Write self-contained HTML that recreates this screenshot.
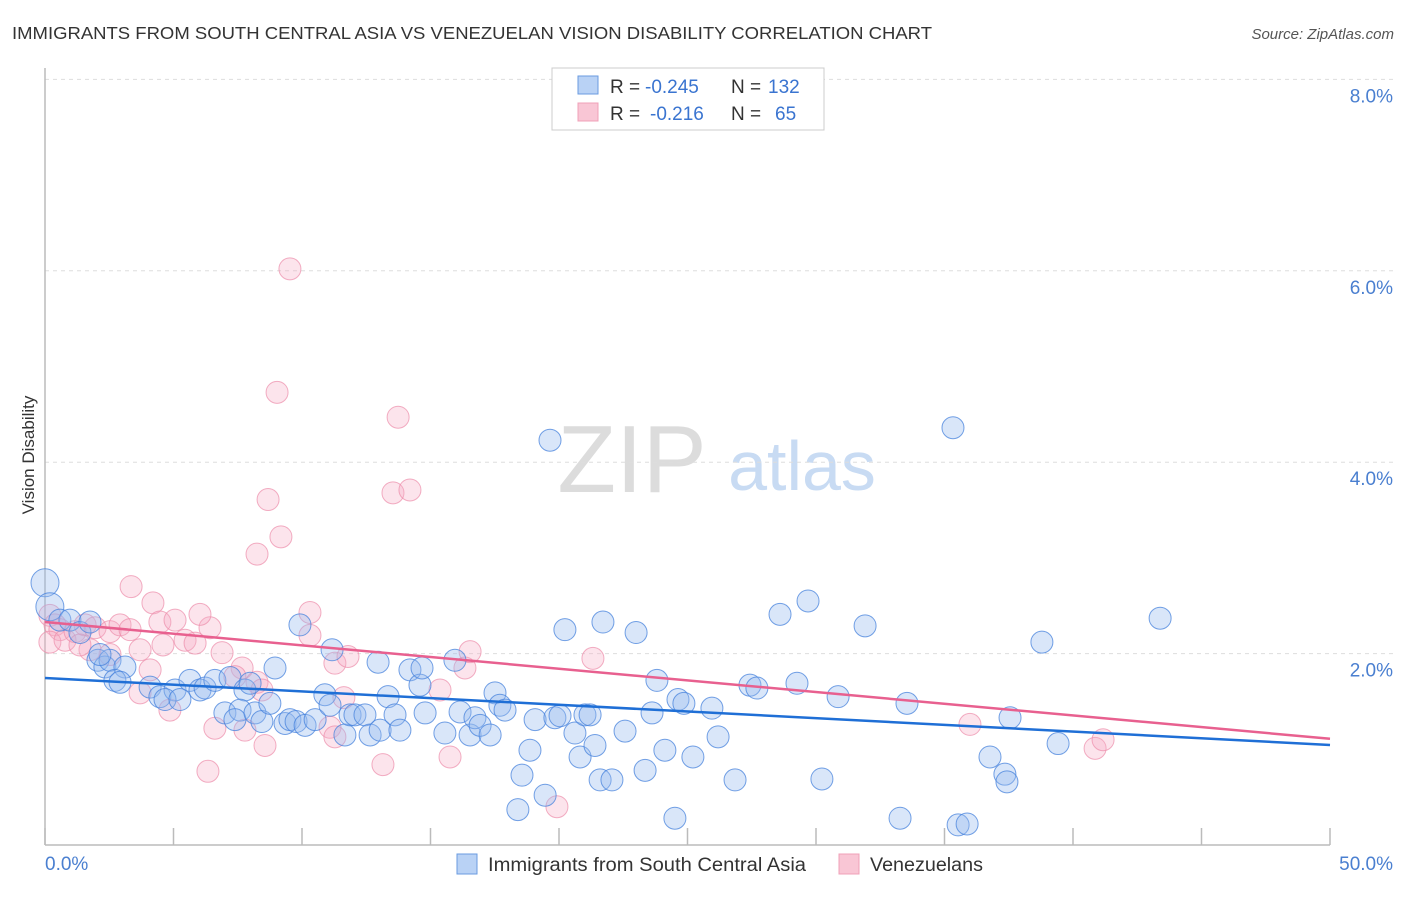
<!DOCTYPE html>
<html><head><meta charset="utf-8"><style>
body{margin:0;background:#fff;font-family:"Liberation Sans",sans-serif;}
svg text{font-family:"Liberation Sans",sans-serif;}
</style></head><body>
<svg width="1406" height="892" id="chart">
<text x="12" y="39" font-size="17.5" fill="#333" textLength="920" lengthAdjust="spacingAndGlyphs">IMMIGRANTS FROM SOUTH CENTRAL ASIA VS VENEZUELAN VISION DISABILITY CORRELATION CHART</text>
<text x="1394" y="39" font-size="15" fill="#555" font-style="italic" text-anchor="end">Source: ZipAtlas.com</text>
<text x="34" y="455" font-size="17" fill="#333" text-anchor="middle" transform="rotate(-90 34 455)">Vision Disability</text>
<g>
<text x="632" y="492" font-size="96" fill="#dcdcdc" font-family="Liberation Serif" text-anchor="middle">ZIP</text>
<text x="802" y="490" font-size="70" fill="#c8dbf3" text-anchor="middle">atlas</text>
</g>
<g id="grid"></g><g id="axes"></g><g id="marks"></g>
<g>
<rect x="552" y="68" width="272" height="62" fill="#fff" stroke="#ccc"/>
<rect x="578" y="76" width="20" height="18" fill="#b9d2f5" stroke="#6a9be0"/>
<rect x="578" y="103" width="20" height="18" fill="#f9c6d5" stroke="#f0a0b8"/>
<g font-size="19">
<text x="610" y="93" fill="#333">R =</text><text x="645" y="93" fill="#3a74d0">-0.245</text>
<text x="731" y="93" fill="#333">N =</text><text x="768" y="93" fill="#3a74d0">132</text></g>
<g font-size="19">
<text x="610" y="120" fill="#333">R =</text><text x="650" y="120" fill="#3a74d0">-0.216</text>
<text x="731" y="120" fill="#333">N =</text><text x="775" y="120" fill="#3a74d0">65</text></g>
</g>
<g>
<rect x="457" y="854" width="20" height="20" fill="#b9d2f5" stroke="#6a9be0"/>
<text x="488" y="871" font-size="19" fill="#333" textLength="318" lengthAdjust="spacingAndGlyphs">Immigrants from South Central Asia</text>
<rect x="839" y="854" width="20" height="20" fill="#f9c6d5" stroke="#f0a0b8"/>
<text x="870" y="871" font-size="19" fill="#333" textLength="113" lengthAdjust="spacingAndGlyphs">Venezuelans</text>
</g>
</svg>
<script>
const blueX=[0,0.19,0.58,0.97,1.36,1.75,2.06,2.33,2.53,3.11,2.14,2.72,2.92,4.09,4.47,5.06,4.67,5.25,5.64,6.03,6.23,6.61,7.2,7.78,7.98,7.0,7.59,7.39,8.17,8.44,8.75,8.95,9.34,9.53,9.77,9.92,10.12,10.51,10.89,11.09,11.17,11.67,11.87,12.06,12.45,12.65,13.04,12.96,13.35,13.62,13.81,14.2,14.59,14.67,14.79,15.56,15.95,16.15,16.54,16.73,16.93,17.32,17.51,17.7,17.9,18.4,18.56,18.87,19.07,19.46,19.65,19.84,20.04,20.23,20.62,20.82,21.01,21.21,21.4,21.6,21.71,22.06,22.57,23.0,23.35,23.62,23.81,24.12,24.51,24.63,24.86,25.21,25.95,26.19,26.85,27.43,27.7,29.26,28.6,29.69,30.23,30.86,31.91,33.27,33.54,35.33,35.53,35.88,36.77,37.35,37.43,37.55,38.79,39.42,43.39];
const blueY=[2.74,2.49,2.35,2.35,2.22,2.33,1.93,1.86,1.93,1.86,1.99,1.72,1.70,1.65,1.55,1.62,1.52,1.52,1.72,1.62,1.64,1.72,1.75,1.62,1.69,1.38,1.41,1.31,1.38,1.29,1.48,1.85,1.27,1.31,1.29,2.30,1.25,1.31,1.57,1.46,2.04,1.15,1.36,1.36,1.36,1.15,1.20,1.91,1.55,1.36,1.20,1.83,1.67,1.85,1.38,1.17,1.93,1.39,1.15,1.33,1.25,1.15,1.59,1.46,1.41,0.37,0.73,0.99,1.31,0.52,4.23,1.33,1.35,2.25,1.17,0.92,1.36,1.36,1.04,0.68,2.33,0.68,1.19,2.22,0.78,1.38,1.72,0.99,0.28,1.52,1.48,0.92,1.43,1.13,0.68,1.67,1.64,1.69,2.41,2.55,0.69,1.55,2.29,0.28,1.48,4.36,0.21,0.22,0.92,0.74,0.66,1.33,2.12,1.06,2.37];
const pinkX=[9.53,9.03,13.74,8.68,13.54,14.2,9.18,8.25,3.35,4.2,0.19,0.39,0.58,0.19,0.78,1.17,1.56,1.95,2.53,2.92,3.31,4.47,5.06,5.45,5.84,6.42,6.03,4.59,3.7,2.53,1.75,1.36,4.09,3.7,4.86,6.89,7.67,7.39,8.25,8.44,6.61,7.78,8.56,6.34,10.31,10.31,11.28,11.79,11.63,11.09,11.28,13.15,15.37,16.34,16.54,15.76,19.92,21.32,35.99,40.86,41.17];
const pinkY=[6.02,4.73,4.47,3.61,3.68,3.71,3.22,3.04,2.70,2.53,2.40,2.30,2.25,2.12,2.14,2.23,2.30,2.27,2.23,2.30,2.25,2.33,2.35,2.14,2.11,2.27,2.41,2.09,2.04,1.99,2.04,2.09,1.83,1.59,1.41,2.01,1.85,1.76,1.70,1.62,1.22,1.20,1.04,0.77,2.43,2.19,1.90,1.97,1.54,1.23,1.13,0.84,1.62,1.85,2.02,0.92,0.40,1.95,1.26,1.01,1.10];
const blueTrend=[1.745,1.045];
const pinkTrend=[2.33,1.11];
const yTicks=[2,4,6,8];
const yTickLabels=["2.0%","4.0%","6.0%","8.0%"];
const xTicks=[0,5,10,15,20,25,30,35,40,45,50];
const NS="http://www.w3.org/2000/svg";
const sx=v=>45+v*25.7, sy=v=>845-v*95.7;
function mk(tag,attrs,parent){const e=document.createElementNS(NS,tag);for(const k in attrs)e.setAttribute(k,attrs[k]);parent.appendChild(e);return e;}
const grid=document.getElementById('grid'),axes=document.getElementById('axes'),marks=document.getElementById('marks');
yTicks.forEach((t,i)=>{
 const l=mk('line',{x1:45,x2:1393,y1:sy(t),y2:sy(t),stroke:'#ddd','stroke-dasharray':'4,4'},grid);
 
 
 const tx=mk('text',{x:1393,y:sy(t)+23,'font-size':19,fill:'#4a7fd0','text-anchor':'end'},axes);
 tx.textContent=yTickLabels[i];
 
 
});
const ya=mk('line',{x1:45,x2:45,y1:68,y2:845,stroke:'#bbb','stroke-width':1.5},axes);


const xa=mk('line',{x1:45,x2:1330,y1:845,y2:845,stroke:'#bbb','stroke-width':1.5},axes);


xTicks.forEach(t=>{const l=mk('line',{x1:sx(t),x2:sx(t),y1:828,y2:845,stroke:'#bbb','stroke-width':1.5},axes);
 
 });
[[0,'0.0%','start',45],[50,'50.0%','end',1393]].forEach(a=>{const tx=mk('text',{x:a[3],y:870,'font-size':19,fill:'#4a7fd0','text-anchor':a[2]},axes);tx.textContent=a[1];
 
 });
function pts(X,Y,fill,stroke,name){X.forEach((x,i)=>{const r=(i<2&&name==='blue-point')?14:11;
 const c=mk('circle',{cx:sx(x),cy:sy(Y[i]),r:r,fill:fill,stroke:stroke,'stroke-width':1},marks);
 
 });}
pts(pinkX,pinkY,'rgba(246,170,195,0.32)','rgba(236,140,170,0.7)','pink-point');
pts(blueX,blueY,'rgba(150,185,238,0.36)','rgba(70,130,220,0.75)','blue-point');
const bl=mk('line',{x1:sx(0),x2:sx(50),y1:sy(blueTrend[0]),y2:sy(blueTrend[1]),stroke:'#1f6fd6','stroke-width':2.5},marks);


const pl=mk('line',{x1:sx(0),x2:sx(50),y1:sy(pinkTrend[0]),y2:sy(pinkTrend[1]),stroke:'#e8608f','stroke-width':2.5},marks);


</script>
</body></html>
